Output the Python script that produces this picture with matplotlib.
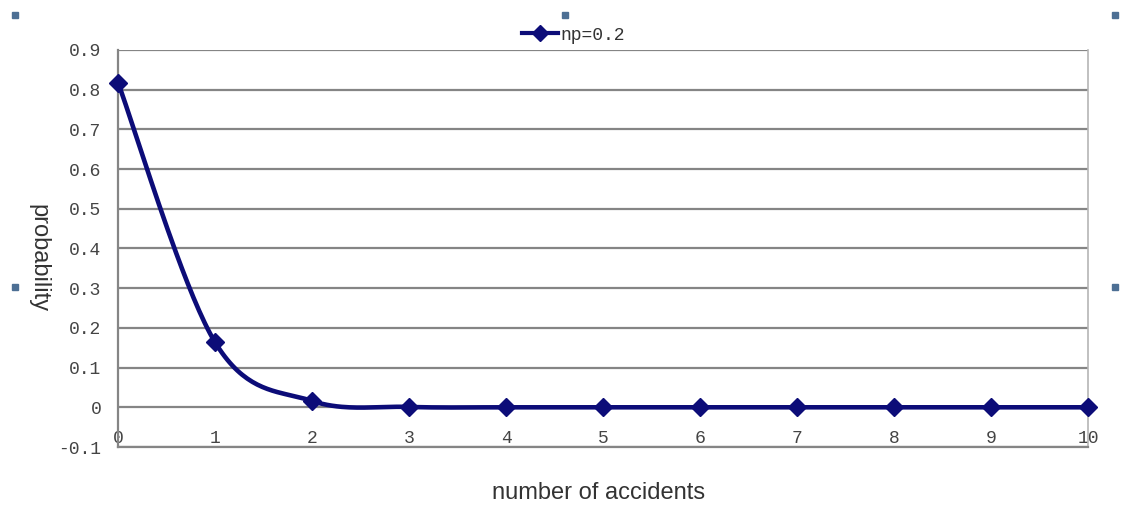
import numpy as np
import matplotlib.pyplot as plt
from matplotlib.lines import Line2D

# Poisson probabilities for np = 0.2
accidents = [0, 1, 2, 3, 4, 5, 6, 7, 8, 9, 10]
probability = [0.818, 0.164, 0.016, 0.001, 0.0, 0.0, 0.0, 0.0, 0.0, 0.0, 0.0]
series_label = 'np=0.2'
y_ticks = [-0.1, 0.0, 0.1, 0.2, 0.3, 0.4, 0.5, 0.6, 0.7, 0.8, 0.9]
y_tick_labels = ['-0.1', '0', '0.1', '0.2', '0.3', '0.4', '0.5', '0.6', '0.7', '0.8', '0.9']

LINE_COLOR = '#0c0c78'
GRID_COLOR = '#858585'
TICK_FONT = 'Liberation Mono'
W, H = 1122, 507


def smooth_curve(xs, ys, n=40):
    """Excel style smoothed line: cubic Bezier with control points (P[i+1]-P[i-1])/6."""
    pts = np.column_stack([xs, ys]).astype(float)
    out = []
    for i in range(len(pts) - 1):
        p0 = pts[max(i - 1, 0)]
        p1 = pts[i]
        p2 = pts[i + 1]
        p3 = pts[min(i + 2, len(pts) - 1)]
        c1 = p1 + (p2 - p0) / 6.0
        c2 = p2 - (p3 - p1) / 6.0
        t = np.linspace(0, 1, n)[:, None]
        seg = ((1 - t) ** 3) * p1 + 3 * ((1 - t) ** 2) * t * c1 \
            + 3 * (1 - t) * t ** 2 * c2 + t ** 3 * p2
        out.append(seg if i == 0 else seg[1:])
    curve = np.vstack(out)
    return curve[:, 0], curve[:, 1]


fig = plt.figure(figsize=(W / 100, H / 100), dpi=100)
ax = fig.add_axes([118 / W, 1 - 447 / H, 970 / W, 397 / H])

ax.set_xlim(0, 10)
ax.set_ylim(-0.1, 0.9)

# horizontal gridlines
for y in y_ticks:
    ax.axhline(y, color=GRID_COLOR, linewidth=1.6, zorder=1)

cx, cy = smooth_curve(accidents, probability)
ax.plot(cx, cy, color=LINE_COLOR, linewidth=3.3, zorder=3, clip_on=False)
ax.plot(accidents, probability, linestyle='none', marker='D', markersize=9,
        color=LINE_COLOR, zorder=4, clip_on=False)

# legend entry above the plot area
fig.add_artist(Line2D([522 / W, 558 / W], [1 - 33 / H, 1 - 33 / H],
                      color=LINE_COLOR, linewidth=3))
fig.add_artist(Line2D([540 / W], [1 - 33 / H], color=LINE_COLOR,
                      marker='D', markersize=8, linestyle='none'))
fig.text(560 / W, 1 - 35 / H, series_label, ha='left', va='center',
         family=TICK_FONT, fontsize=13, color='#333333')

ax.set_yticks(y_ticks)
ax.set_yticklabels(y_tick_labels, family=TICK_FONT, fontsize=13, color='#444444')
ax.set_xticks(accidents)
ax.set_xticklabels([str(a) for a in accidents], family=TICK_FONT,
                   fontsize=13, color='#444444')
ax.tick_params(axis='y', length=0, pad=12)
ax.tick_params(axis='x', length=0, pad=-12)

for side in ['left', 'bottom']:
    ax.spines[side].set_color(GRID_COLOR)
    ax.spines[side].set_linewidth(1.6)
ax.spines['top'].set_visible(False)
ax.spines['right'].set_color('#b5b5b5')
ax.spines['right'].set_linewidth(1.2)

fig.text(38 / W, 1 - 258 / H, 'probability', rotation=270, ha='center', va='center',
         family='Liberation Sans', fontsize=17, color='#333333')
fig.text(599 / W, 1 - 493 / H, 'number of accidents', ha='center', va='center',
         family='Liberation Sans', fontsize=17, color='#333333')

# small selection handles around the chart frame
for hx, hy in [(15, 15), (565, 15), (1115, 15), (15, 287), (1115, 287)]:
    fig.patches.append(plt.Rectangle(((hx - 3) / W, 1 - (hy + 3) / H),
                                     6 / W, 6 / H, transform=fig.transFigure,
                                     color='#4d6f94', figure=fig))

fig.savefig('out.png', dpi=100)
